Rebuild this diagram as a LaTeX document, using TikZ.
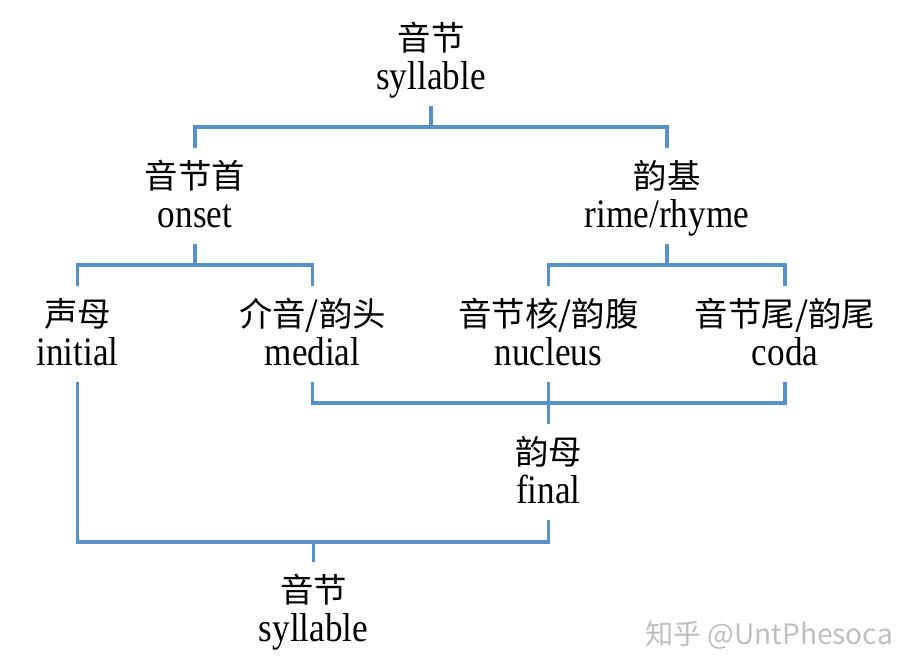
\documentclass[tikz,border=0pt]{standalone}
\usepackage{fontspec}
\setmainfont{Liberation Serif}[FakeStretch=0.87]
\newfontfamily\cjk{Noto Sans CJK SC}
\usetikzlibrary{positioning}

\definecolor{treeblue}{RGB}{88,144,200}
\newcommand{\zhline}[1]{{\cjk\fontsize{19}{22.6}\selectfont #1}\rule{0pt}{21.6pt}}
\newcommand{\enline}[1]{#1\rule[-7.8pt]{0pt}{7.8pt}}

\tikzset{
  unit/.style={align=center, inner sep=0pt, outer sep=0pt, minimum height=1.92cm,
    font=\fontsize{23}{22.6}\selectfont},
  branch/.style={draw=treeblue, line width=1.8pt}
}

\begin{document}
\begin{tikzpicture}[on grid]
    \useasboundingbox (0,0) rectangle (18.24,-13.4);
    % top layer
    \node[unit] (syl) at (8.62,-1.16) {\zhline{音节}\\\enline{syllable}};
    \node[unit] (onset) [below left=2.76cm and 4.72cm of syl] {\zhline{音节首}\\\enline{onset}};
    \node[unit] (rime) [below right=2.76cm and 4.72cm of syl] {\zhline{韵基}\\\enline{rime/rhyme}};
    % segments
    \node[unit] (initial) [below left=2.76cm and 2.35cm of onset] {\zhline{声母}\\\enline{initial}};
    \node[unit] (medial) [below right=2.76cm and 2.35cm of onset] {\zhline{介音/韵头}\\\enline{medial}};
    \node[unit] (nucleus) [below left=2.76cm and 2.37cm of rime] {\zhline{音节核/韵腹}\\\enline{nucleus}};
    \node[unit] (coda) [below right=2.76cm and 2.36cm of rime] {\zhline{音节尾/韵尾}\\\enline{coda}};
    % second analysis
    \node[unit] (final) [below=2.76cm of nucleus] {\zhline{韵母}\\\enline{final}};
    \node[unit] (sylb) [below left=2.76cm and 4.7cm of final] {\zhline{音节}\\\enline{syllable}};
    \node[text=black!25, font=\cjk\fontsize{16}{18}\selectfont] (mark) at (15.38,-12.7) {知乎 @UntPhesoca};

    \path (syl.south) ++(0,-0.42) coordinate (k1)
          (onset.south) ++(0,-0.42) coordinate (k2)
          (rime.south) ++(0,-0.42) coordinate (k3)
          (nucleus.south) ++(0,-0.42) coordinate (k4)
          (final.south) ++(0,-0.44) coordinate (k5);
    \draw[branch] (syl.south) -- (k1);
    \draw[branch] (onset.north) |- (k1) -| (rime.north);
    \draw[branch] (onset.south) -- (k2);
    \draw[branch] (initial.north) |- (k2) -| (medial.north);
    \draw[branch] (rime.south) -- (k3);
    \draw[branch] (nucleus.north) |- (k3) -| (coda.north);
    \draw[branch] (medial.south) |- (k4) -| (coda.south);
    \draw[branch] (nucleus.south) -- (final.north);
    \draw[branch] (initial.south) |- (k5) -- (final.south);
    \draw[branch] (sylb.north) -- (sylb.north |- k5);
\end{tikzpicture}
\end{document}
